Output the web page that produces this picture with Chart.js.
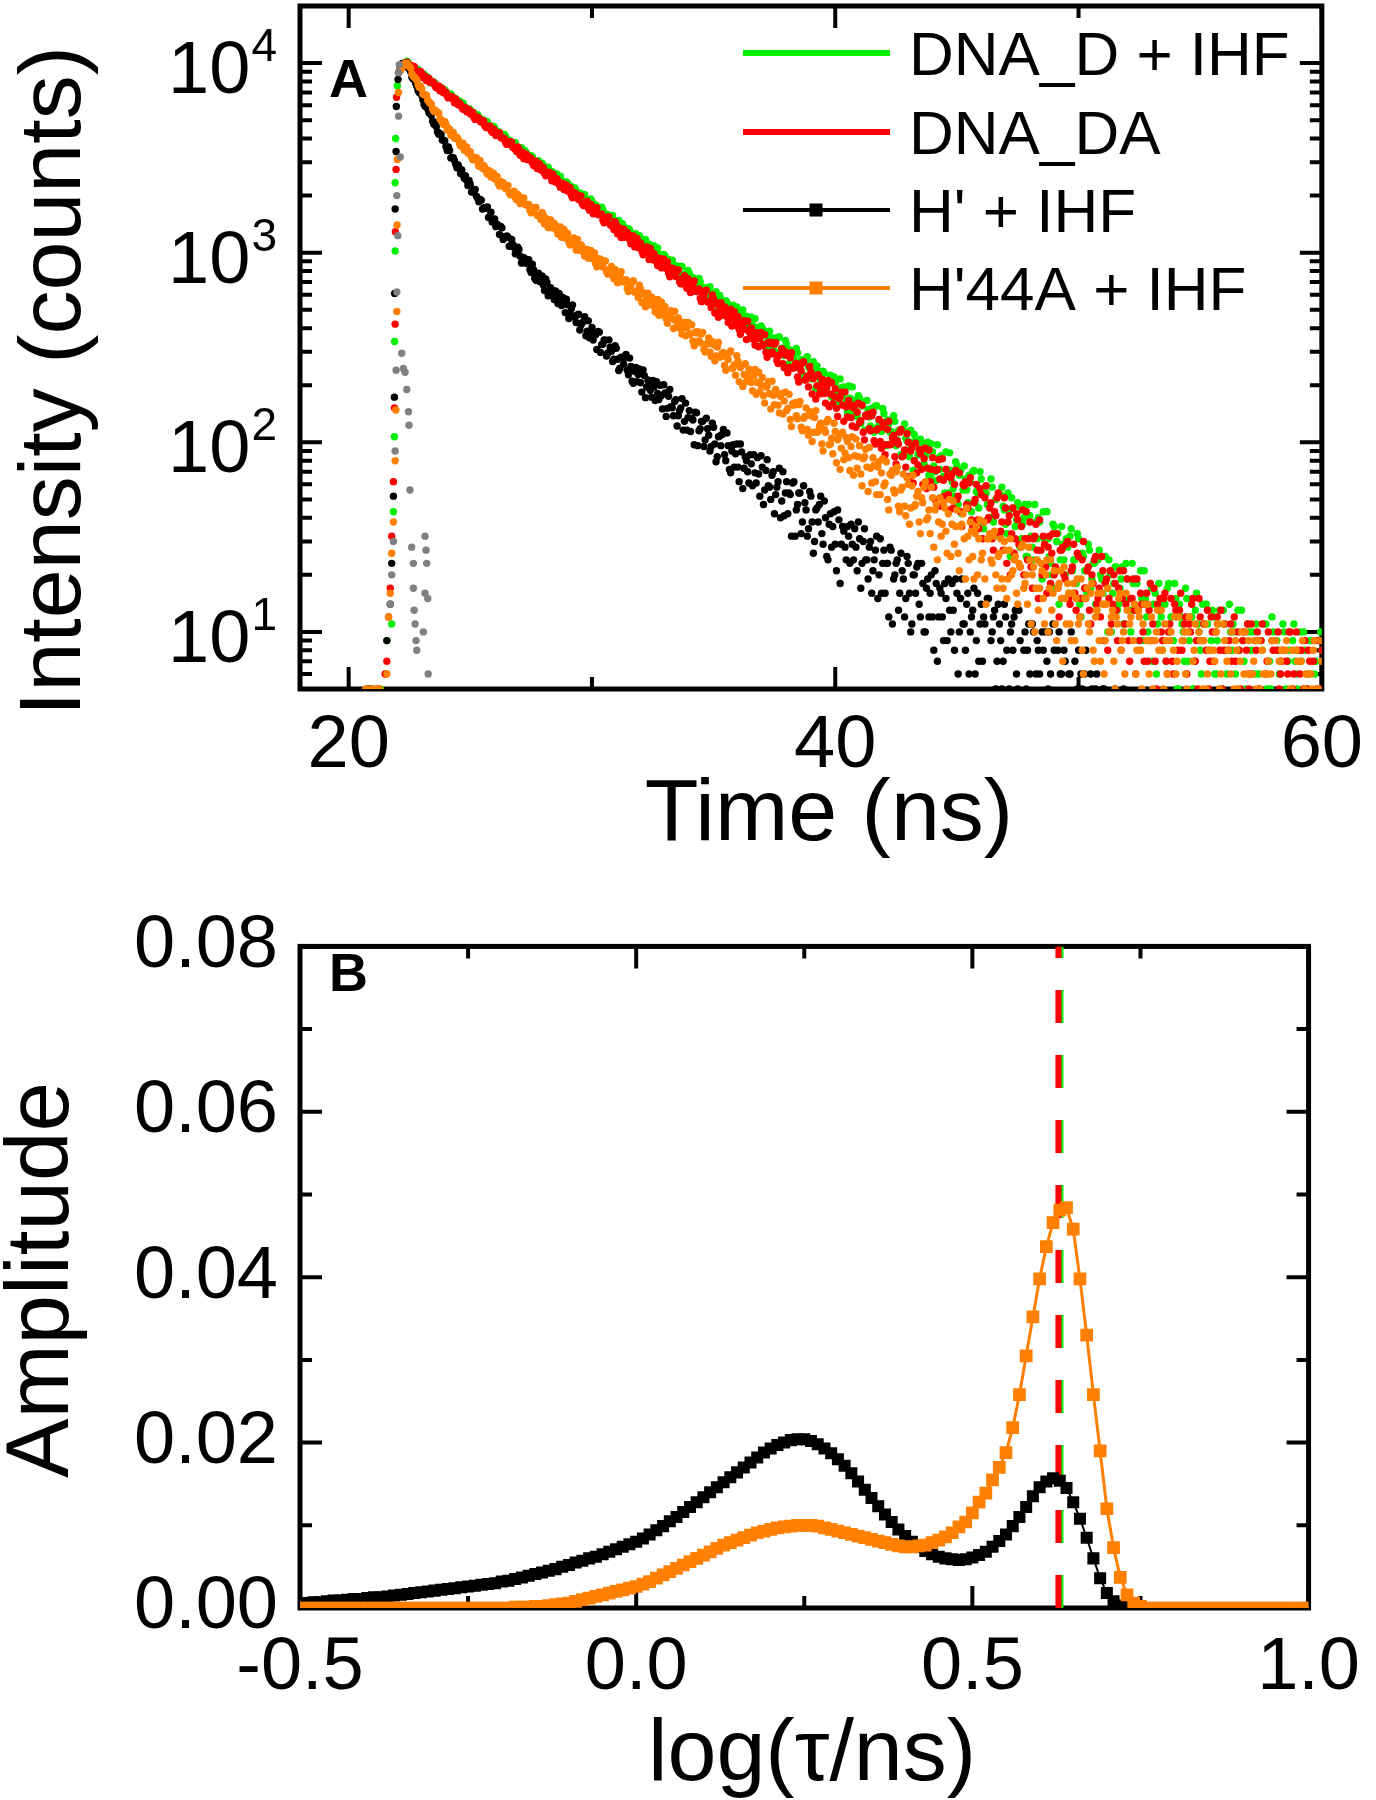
<!DOCTYPE html>
<html><head><meta charset="utf-8">
<script src="https://cdn.jsdelivr.net/npm/chart.js"></script>
<style>html,body{margin:0;padding:0;background:#fff;}canvas{display:block;}</style>
</head><body>
<canvas id="panelA" width="1376" height="880"></canvas>
<canvas id="panelB" width="1376" height="920"></canvas>
<script>
// ---------------- DATA ----------------
const seriesLabels = ['DNA_D + IHF', 'DNA_DA', "H' + IHF", "H'44A + IHF"];
const seriesColors = ['#00f000', '#ff0000', '#000000', '#ff8000'];
const irfColor = '#808080';

// Panel A: TCSPC decays (counts). Even channels start at DECAY_START_NS (every CHANNEL_NS),
// odd channels ("Half" arrays) sit half a channel later.
const DECAY_START_NS = 22.4;
const CHANNEL_NS = 0.1;

const greenRiseTimes = [21.00, 21.30, 21.57, 21.77, 21.84, 21.88, 21.89, 21.91, 21.91, 21.93, 22.00, 22.10, 22.20, 22.30];
const greenRiseCounts = [5, 5, 9, 11, 43, 107, 340, 1020, 2340, 4000, 7600, 9100, 9750, 9990];
const redRiseTimes = [20.90, 21.20, 21.50, 21.57, 21.64, 21.71, 21.77, 21.84, 21.88, 21.91, 21.92, 21.95, 21.97, 22.05, 22.15, 22.25, 22.32];
const redRiseCounts = [5, 5, 6, 7, 12, 17, 32, 62, 152, 420, 1290, 2750, 6600, 8900, 9600, 9900, 10000];
const blackRiseTimes = [20.80, 21.57, 21.71, 21.77, 21.84, 21.88, 21.89, 21.91, 21.95, 21.96, 22.03, 22.12, 22.20, 22.30];
const blackRiseCounts = [5, 9, 14, 23, 52, 173, 610, 1700, 3420, 5900, 8200, 9500, 9950, 10000];
const orangeRiseTimes = [20.70, 20.90, 21.10, 21.27, 21.57, 21.64, 21.71, 21.77, 21.84, 21.91, 21.94, 21.98, 21.99, 22.00, 22.05, 22.15, 22.25, 22.32];
const orangeRiseCounts = [5, 5, 5, 5, 6, 12, 16, 26, 38, 80, 148, 490, 1400, 3100, 7000, 9200, 9800, 9990];

const irfTimes = [21.71, 21.77, 21.84, 21.91, 21.95, 21.98, 21.98, 22.02, 22.05, 22.05, 22.08, 22.12, 22.18, 22.25, 22.32, 22.39, 22.46, 22.48, 22.52, 22.59, 22.66, 22.66, 22.69, 22.73, 22.77, 22.80, 23.07, 23.14, 23.14, 23.18, 23.21, 23.25, 23.27];
const irfCounts = [14, 20, 30, 90, 240, 620, 2000, 1230, 5250, 8900, 9800, 3200, 295, 245, 234, 190, 145, 123, 56, 28, 23, 17, 13, 11, 9, 8, 10, 32, 16, 27, 23, 15, 6];

const greenDecayCounts = [
10234,9648,9623,9156,9262,8970,8661,8730,8135,8244,7933,7938,7503,7456,7445,6986,7066,6737,6864,6491,
6449,6060,6105,6139,5768,5570,5667,5474,5134,5336,5052,5049,4729,4899,4651,4468,4550,4192,4292,4138,
4202,3881,3914,3668,3782,3644,3494,3583,3248,3360,3204,3250,3011,3022,3054,2798,2887,2714,2828,2627,
2634,2419,2480,2533,2326,2231,2322,2228,2040,2197,2041,2066,1887,2021,1887,1794,1870,1665,1751,1676,
1738,1554,1597,1459,1551,1483,1405,1481,1285,1374,1292,1338,1202,1225,1261,1113,1185,1089,1176,1061,
1084,959,1012,1058,939,890,960,912,803,914,827,852,749,845,770,721,778,657,721,681,
731,622,656,577,644,608,566,622,504,568,523,559,479,500,529,441,492,438,499,432,
450,376,414,449,378,352,401,375,310,385,335,355,294,359,314,287,328,254,298,277,
313,246,272,225,271,250,227,266,193,237,211,237,188,205,226,172,207,175,216,176,
189,144,171,196,152,137,171,156,116,166,136,151,113,156,129,114,142,96,125,114,
138,96,115,86,116,105,91,116,71,101,86,104,74,85,100,66,89,70,97,72,
82,54,72,88,62,52,75,67,42,75,56,67,43,71,55,45,64,35,54,47,
64,38,50,32,53,46,37,54,25,45,36,48,28,37,47,25,41,28,47,31,
38,19,31,43,25,20,36,30,14,36,24,31,16,35,24,18,31,12,25,21,
29,17,23,14,24,20,16,25,10,20,16,22,13,17,22,11,19,13,23,14,
18,9,15,21,12,9,17,14,6,18,12,15,7,18,12,9,15,5,12,10,
17,7,12,5,13,11,8,14,4,11,8,13,6,9,13,5,11,6,14,8,
10,4,8,13,7,4,10,8,2,11,6,9,3,11,7,5,10,2,8,6,
11,4,7,2,9,7,5,10,2,8,5,9,3,6,9,3,8];
const greenDecayCountsHalf = [
10042,9608,9533,9057,9252,8857,8514,8488,8420,7867,7890,7829,7459,7435,7066,7220,6861,6610,6665,6557,
6238,6323,5877,5911,5670,5750,5347,5463,5221,5182,4921,4953,4935,4636,4598,4649,4245,4361,4178,4024,
4107,3880,3883,3628,3800,3594,3422,3450,3450,3142,3198,3200,3004,3028,2831,2966,2774,2649,2720,2685,
2516,2603,2351,2403,2280,2360,2133,2235,2109,2110,1971,2017,2031,1866,1865,1921,1687,1784,1690,1613,
1688,1564,1586,1443,1572,1460,1369,1405,1422,1243,1300,1318,1208,1240,1130,1231,1123,1058,1117,1108,
1015,1084,935,981,915,978,845,922,852,864,788,827,846,751,760,805,666,737,686,645,
702,632,654,571,661,597,546,576,595,487,529,547,484,510,446,517,454,419,462,462,
408,457,368,402,365,411,330,384,344,356,312,341,358,301,311,344,258,307,278,256,
296,254,273,222,283,246,216,238,253,187,216,231,193,212,174,221,184,164,194,196,
163,198,143,167,144,176,126,163,139,149,122,143,155,120,128,151,97,131,113,101,
129,103,116,84,125,102,84,100,110,69,90,100,77,91,67,98,75,63,83,85,
66,89,54,71,57,79,47,71,56,64,48,62,70,48,54,70,36,58,47,40,
58,42,51,32,58,44,33,44,51,25,39,46,31,40,25,47,32,24,38,40,
27,43,20,31,23,37,17,33,24,29,20,28,32,21,24,33,14,26,21,16,
27,19,23,13,27,19,14,19,24,10,18,22,14,19,11,23,15,10,18,19,
13,21,9,15,10,18,7,16,11,14,8,14,17,10,12,18,5,14,11,7,
15,9,12,5,16,10,6,11,14,3,9,12,6,11,4,13,8,4,10,11,
6,13,4,9,5,11,3,10,6,9,4,8,11,5,7,12,2,9,6,4,
10,5,8,2,11,6,3,7,10,2,6,9,4,7,2,10];

const redDecayCounts = [
10104,9564,9571,9566,9050,8755,8831,8546,8077,8287,7889,7845,7406,7580,7231,6967,7032,6553,6642,6417,
6465,6034,6045,5707,5821,5619,5404,5489,5046,5159,4939,4971,4651,4641,4656,4317,4405,4170,4290,4019,
4009,3724,3781,3828,3555,3418,3514,3381,3133,3309,3103,3118,2884,3034,2855,2727,2806,2542,2635,2528,
2594,2356,2396,2216,2319,2223,2118,2200,1950,2050,1940,1986,1812,1831,1866,1676,1755,1631,1729,1582,
1596,1438,1495,1544,1393,1326,1406,1341,1202,1331,1219,1245,1115,1225,1127,1063,1127,976,1048,996,
1053,918,956,855,932,885,830,893,747,821,763,803,703,725,757,649,707,638,709,624,
643,552,595,635,548,513,570,537,457,545,481,504,428,504,449,414,461,371,423,394,
435,355,384,326,378,353,324,369,281,332,300,329,270,288,312,247,288,248,297,247,
261,208,238,266,214,196,235,217,169,227,190,207,161,212,180,160,192,137,173,157,
184,136,156,122,157,144,127,157,103,137,118,138,102,116,132,93,120,97,129,98,
109,77,98,117,85,74,100,90,61,99,76,87,60,93,73,62,83,50,72,64,
82,52,66,44,68,60,50,69,36,59,47,61,39,48,60,35,53,38,59,40,
48,27,41,54,34,27,45,38,20,45,31,39,22,44,31,24,38,17,32,27,
39,20,29,16,32,26,20,33,12,27,20,29,15,21,29,13,25,15,30,17,
22,11,18,25,15,12,21,18,8,21,14,18,9,21,15,11,19,7,15,13,
19,9,14,7,16,13,9,17,5,13,10,15,7,10,15,6,13,8,16,9,
12,4,10,15,7,5,12,9,3,13,7,10,4,12,8,5,11,3,9,7,
12,4,8,3,10,8,5,11,2,8,5,9,4,6,10,3,8,4,10,6,
8,2,6,10,5,3,8,6,2,9,5,7,2,9,5,3,8];
const redDecayCountsHalf = [
9742,9717,9622,9138,9018,9026,8397,8499,8185,7910,7971,7600,7550,7141,7330,6993,6704,6695,6648,6172,
6208,6168,5851,5844,5530,5678,5373,5162,5222,5137,4869,4956,4573,4612,4410,4490,4146,4258,4053,4028,
3808,3846,3838,3585,3559,3611,3265,3375,3222,3095,3176,2985,2995,2778,2936,2763,2619,2650,2656,2392,
2448,2457,2291,2317,2152,2275,2113,2010,2076,2050,1908,1989,1775,1824,1723,1797,1604,1698,1592,1598,
1481,1525,1542,1402,1405,1458,1258,1346,1268,1205,1277,1173,1196,1075,1190,1096,1020,1054,1072,920,
969,988,896,926,833,923,833,779,832,826,749,810,685,727,672,729,616,685,627,639,
574,611,628,549,559,599,481,544,502,468,518,460,480,410,489,436,394,421,438,348,
384,401,349,372,319,380,327,299,336,337,292,335,260,291,260,300,233,279,246,257,
221,246,261,213,223,251,180,222,199,180,215,181,195,154,206,175,151,170,184,129,
154,166,135,152,120,161,130,113,139,141,115,144,98,118,101,127,86,117,97,106,
84,102,113,84,91,111,66,94,80,69,92,72,82,57,91,72,58,71,81,46,
63,72,53,65,45,71,52,43,60,62,45,65,36,50,39,57,31,51,39,45,
31,43,51,33,38,51,23,41,33,26,42,29,36,20,43,31,22,31,37,15,
27,32,22,28,18,33,22,17,27,28,19,30,14,22,16,26,12,24,17,21,
13,20,24,14,17,25,9,19,15,11,20,13,17,8,21,14,9,15,19,6,
13,16,10,14,7,18,11,7,14,15,9,16,6,11,7,14,4,13,8,11,
6,11,14,7,9,15,3,11,8,5,12,7,10,3,13,8,4,8,11,2,
7,10,5,9,3,11,6,3,9,10,5,11,2,7,4,9,2,8,5,7,
3,7,10,4,6,10,2,8,5,3,8,4,7,2,9,5];

const blackDecayCounts = [
9733,9274,8422,8254,7564,6995,6778,6051,5896,5463,5297,4762,4636,4216,4194,3914,3634,3606,3161,3169,
2923,2901,2617,2570,2545,2262,2294,2096,2154,1939,1907,1698,1725,1744,1551,1452,1506,1412,1247,1352,
1216,1225,1081,1174,1065,990,1039,882,940,879,919,786,814,716,780,730,676,728,592,653,
597,629,539,556,581,483,532,471,530,455,469,391,427,460,385,356,404,375,309,381,
328,347,285,347,302,274,313,239,281,259,291,227,251,205,248,228,206,241,172,213,
188,212,166,181,200,150,182,151,190,152,164,122,147,170,129,116,147,134,97,143,
115,129,95,134,109,95,120,79,107,96,117,80,96,69,97,87,74,98,57,84,
70,86,59,69,83,52,74,56,81,58,67,42,58,73,49,41,62,54,32,62,
44,54,33,59,44,35,52,26,44,38,52,29,40,24,42,36,29,44,18,36,
28,36,23,29,35,21,31,23,35,24,28,16,24,32,20,16,27,23,12,27,
19,23,13,26,19,15,23,10,20,16,23,12,18,10,19,16,12,21,7,17,
12,18,9,13,18,8,16,10,19,11,14,6,12,17,9,7,14,12,4,15,
9,12,5,14,9,7,12,4,10,8,13,5,9,4,10,8,6,11,2,9,
6,10,4,7,10,3,8,4,10,6,8,2,6,10,4,3,8,6,2,8,
4,6,2,5,4,3,5,1,4,3,3,5,2,4,3,2,4,1,3,2,
3,2,4,1,3,2,3,2,1,3,2,3,1,4,2,3,2,1,3,2,
1,2,3,2,1,4,2,1,2,3,2,1,2,3,1,2,1,3,2,1,
1,2,1,2,3,1,2,1,1,2,2,1,1,2,1,3,1,2,1,1,
1,1,2,1,2,1,1,2,1,1,1,2,1,1,1,1,2];
const blackDecayCountsHalf = [
9462,8996,8232,7863,7170,7026,6401,5908,5724,5405,4938,4869,4347,4249,3931,3887,3458,3458,3178,3066,
2807,2786,2728,2469,2405,2406,2087,2138,1984,1854,1891,1724,1713,1533,1635,1491,1372,1382,1375,1175,
1207,1208,1090,1105,988,1069,957,885,928,909,816,870,733,767,704,753,632,694,629,635,
566,596,610,527,534,568,450,507,464,428,474,416,433,365,437,386,346,369,384,298,
330,346,296,317,267,323,274,246,280,280,240,278,210,237,209,244,184,225,196,205,
173,196,209,168,176,201,137,175,154,138,168,138,152,116,161,135,114,131,144,96,
118,129,103,118,90,126,98,84,108,110,86,112,72,90,74,98,62,89,73,80,
61,77,86,61,68,85,47,71,59,50,70,53,62,40,70,54,42,53,61,32,
47,54,38,48,32,55,38,30,45,47,33,49,25,37,28,43,21,39,29,34,
24,32,37,24,28,38,17,30,24,19,30,21,27,15,31,23,16,23,28,11,
20,24,16,21,12,25,16,11,20,22,14,23,10,17,12,20,8,18,12,16,
9,15,19,10,13,19,6,15,11,8,16,10,13,6,16,11,7,11,15,4,
10,13,7,11,5,14,8,5,11,12,6,13,4,8,5,11,3,10,6,8,
4,8,10,5,6,11,2,8,6,3,7,4,6,2,7,5,3,5,6,1,
3,5,2,6,4,3,5,2,4,2,2,4,3,1,5,3,2,4,3,2,
2,3,1,4,2,3,1,2,3,2,3,1,2,3,2,1,4,2,1,2,
2,3,2,1,3,2,1,2,3,1,1,2,1,3,2,1,2,1,2,3,
2,1,2,1,1,3,1,2,1,2,1,2,1,1,2,1,3,1,1,2,
1,2,1,1,1,2,1,1,2,1,1,1,2,1,1,2];

const orangeDecayCounts = [
9948,9589,8788,8445,8168,7453,7324,6801,6755,6235,6059,5563,5498,5433,4999,4739,4762,4527,4166,4302,
4006,3967,3653,3776,3536,3356,3410,3088,3163,3021,3069,2789,2813,2602,2697,2579,2453,2527,2249,2346,
2218,2259,2066,2078,2109,1903,1980,1843,1942,1782,1797,1625,1681,1731,1567,1495,1575,1504,1356,1488,
1368,1394,1254,1369,1265,1194,1262,1099,1175,1118,1174,1029,1068,962,1041,990,931,996,842,919,
857,898,792,814,847,731,792,718,794,703,721,624,670,711,618,581,641,605,519,612,
544,568,487,567,508,471,520,424,479,448,490,404,435,372,429,402,370,417,323,377,
342,373,310,329,355,284,327,285,336,283,298,240,273,303,247,226,268,248,197,260,
218,236,187,242,207,185,220,161,198,181,210,158,180,143,181,165,147,179,121,157,
138,158,120,134,152,109,138,113,147,114,126,90,113,132,98,87,114,103,72,113,
88,101,71,107,85,73,96,59,84,74,94,61,76,53,79,69,59,79,44,67,
56,70,46,56,68,41,60,45,67,47,55,33,48,62,40,33,51,44,24,51,
37,45,26,50,37,29,44,21,37,31,45,24,34,19,36,31,24,38,14,31,
24,32,20,25,31,17,27,19,31,21,25,14,22,29,18,14,24,20,10,24,
17,21,11,24,17,13,21,9,18,15,22,11,16,9,18,15,11,19,6,15,
11,16,8,12,16,7,14,9,17,10,13,5,11,16,9,6,13,11,4,14,
8,12,5,14,9,6,12,3,10,8,13,5,9,4,10,8,6,12,2,9,
6,10,4,7,11,3,9,5,11,6,8,2,7,11,5,3,9,7,2,10,
5,8,2,10,6,4,9,2,7,5,9,3,6,2,7,6,4,9,2,7,
4,8,3,5,8,2,7,3,9,5,6,2,5,9,4,2,7];
const orangeDecayCountsHalf = [
9644,9384,8512,8256,7705,7555,6878,6812,6366,6163,5739,5644,5507,5089,4953,4922,4432,4482,4235,4025,
4060,3792,3754,3470,3606,3379,3188,3193,3173,2861,2900,2889,2691,2703,2508,2627,2440,2318,2378,2341,
2180,2259,2022,2068,1954,2027,1816,1911,1794,1798,1672,1715,1728,1578,1579,1631,1417,1508,1423,1354,
1425,1313,1335,1206,1325,1225,1143,1178,1196,1033,1084,1102,1004,1035,936,1029,933,876,931,925,
841,905,771,815,757,816,695,768,705,718,648,686,704,620,630,673,546,611,566,531,
584,521,542,468,550,493,448,477,495,398,436,453,397,422,365,429,374,342,382,383,
335,380,299,331,299,340,269,318,282,294,254,282,297,246,256,286,209,254,228,209,
244,207,224,179,234,201,176,196,209,150,177,190,157,175,141,184,151,132,160,162,
133,164,115,137,117,145,101,135,113,122,98,117,128,97,105,126,78,108,93,81,
106,83,95,67,104,84,68,82,92,55,73,83,62,74,53,82,61,50,68,71,
54,74,43,58,46,65,37,59,46,52,38,51,58,39,44,58,28,47,38,32,
48,34,42,25,49,36,26,36,42,19,32,38,25,33,20,39,26,19,31,33,
23,34,17,26,19,30,15,27,20,24,16,23,28,17,20,28,11,22,17,13,
23,15,20,10,24,16,11,17,21,7,15,18,11,16,9,19,12,8,15,17,
10,18,7,13,9,16,6,14,10,12,7,12,15,8,10,16,4,12,9,6,
13,8,11,4,14,9,5,9,13,3,8,11,6,9,4,12,7,4,9,10,
5,12,3,8,4,10,2,9,5,8,3,8,10,4,6,11,2,8,6,3,
9,5,7,2,10,6,3,6,9,2,5,8,3,6,2,9,4,2,7,8,
4,9,2,5,3,8,2,7,4,6,2,6,8,3,5,9];

const xTicksA = [20, 40, 60];
const xMinorA = [30, 50];
const yTicksA = [10, 100, 1000, 10000];
const yMinorA = [6, 7, 8, 9, 20, 30, 40, 50, 60, 70, 80, 90, 200, 300, 400, 500, 600, 700, 800, 900,
                 2000, 3000, 4000, 5000, 6000, 7000, 8000, 9000, 20000];

// Panel B: lifetime distributions on a log(tau/ns) grid
const LOGTAU_START = -0.5;
const LOGTAU_STEP = 0.01;
const ampHprime = [
0.0006,0.0006,0.0007,0.0007,0.0008,0.0009,0.0009,0.0010,0.0011,0.0011,
0.0012,0.0013,0.0013,0.0014,0.0015,0.0016,0.0017,0.0018,0.0019,0.0020,
0.0021,0.0022,0.0023,0.0024,0.0025,0.0026,0.0027,0.0028,0.0029,0.0030,
0.0032,0.0033,0.0035,0.0037,0.0039,0.0041,0.0043,0.0045,0.0047,0.0050,
0.0052,0.0055,0.0057,0.0060,0.0062,0.0065,0.0068,0.0071,0.0074,0.0077,
0.0080,0.0084,0.0089,0.0094,0.0099,0.0105,0.0110,0.0116,0.0122,0.0128,
0.0134,0.0140,0.0146,0.0152,0.0158,0.0164,0.0170,0.0176,0.0182,0.0188,
0.0193,0.0197,0.0200,0.0203,0.0204,0.0204,0.0202,0.0198,0.0193,0.0187,
0.0180,0.0172,0.0163,0.0153,0.0143,0.0133,0.0123,0.0113,0.0104,0.0095,
0.0087,0.0080,0.0074,0.0069,0.0065,0.0062,0.0060,0.0059,0.0058,0.0059,
0.0061,0.0064,0.0068,0.0074,0.0081,0.0089,0.0099,0.0110,0.0122,0.0135,
0.0146,0.0153,0.0157,0.0154,0.0145,0.0128,0.0108,0.0085,0.0060,0.0036,
0.0018,0.0008,0.0003,0.0001,0,0,0,0,0,0,
0,0,0,0,0,0,0,0,0,0,
0,0,0,0,0,0,0,0,0,0,0];
const ampH44A = [
0,0,0,0,0,0,0,0,0,0,
0,0,0,0,0,0,0,0,0,0,
0,0,0,0,0,0,0,0,0,0,
0,0,0.0001,0.0001,0.0001,0.0002,0.0002,0.0003,0.0004,0.0005,
0.0006,0.0008,0.0010,0.0012,0.0014,0.0016,0.0018,0.0020,0.0022,0.0024,
0.0026,0.0029,0.0032,0.0036,0.0040,0.0044,0.0048,0.0052,0.0056,0.0060,
0.0064,0.0068,0.0072,0.0076,0.0079,0.0082,0.0085,0.0088,0.0091,0.0093,
0.0095,0.0097,0.0098,0.0099,0.0100,0.0100,0.0100,0.0099,0.0097,0.0095,
0.0093,0.0091,0.0089,0.0087,0.0085,0.0083,0.0081,0.0079,0.0077,0.0075,
0.0074,0.0074,0.0075,0.0076,0.0079,0.0082,0.0086,0.0091,0.0098,0.0104,
0.0115,0.0128,0.0139,0.0155,0.0170,0.0188,0.0218,0.0258,0.0305,0.0352,
0.0398,0.0437,0.0466,0.0481,0.0484,0.0458,0.0398,0.0330,0.0258,0.0190,
0.0120,0.0073,0.0037,0.0016,0.0006,0.0002,0,0,0,0,
0,0,0,0,0,0,0,0,0,0,
0,0,0,0,0,0,0,0,0,0,0];
const donorLogTau = 0.631;   // DNA_D + IHF single lifetime
const daLogTau = 0.628;      // DNA_DA single lifetime
const ampMaxB = 0.08;

const xTicksB = [-0.5, 0, 0.5, 1.0];
const xMinorB = [-0.25, 0.25, 0.75];
const yTicksB = [0, 0.02, 0.04, 0.06, 0.08];
const yMinorB = [0.01, 0.03, 0.05, 0.07];

// ---------------- STYLE / HELPERS ----------------
const FONT = '"Liberation Sans", Arial, Helvetica, sans-serif';
Chart.defaults.font.family = FONT;
Chart.defaults.color = '#000';
const TICK_W = 4, FRAME_W = 5, MAJOR_LEN = 22, MINOR_LEN = 12;

function decaySeries(riseT, riseC, evenC, oddC) {
  const pts = riseT.map((t, i) => ({x: t, y: riseC[i]}));
  evenC.forEach((c, i) => pts.push({x: +(DECAY_START_NS + i * CHANNEL_NS).toFixed(3), y: c}));
  oddC.forEach((c, i) => pts.push({x: +(DECAY_START_NS + CHANNEL_NS / 2 + i * CHANNEL_NS).toFixed(3), y: c}));
  return pts;
}
function distSeries(vals) {
  return vals.map((v, i) => ({x: +(LOGTAU_START + i * LOGTAU_STEP).toFixed(3), y: v}));
}
function drawFrame(chart, t) {
  const {ctx, chartArea: a, scales: {x, y}} = chart;
  ctx.save();
  ctx.strokeStyle = '#000';
  ctx.lineWidth = TICK_W;
  ctx.beginPath();
  const vx = (vals, len) => vals.forEach(v => { const p = x.getPixelForValue(v);
    ctx.moveTo(p, a.bottom); ctx.lineTo(p, a.bottom - len); ctx.moveTo(p, a.top); ctx.lineTo(p, a.top + len); });
  const vy = (vals, len) => vals.forEach(v => { const p = y.getPixelForValue(v);
    ctx.moveTo(a.left, p); ctx.lineTo(a.left + len, p); ctx.moveTo(a.right, p); ctx.lineTo(a.right - len, p); });
  vx(t.xMajor, MAJOR_LEN); vx(t.xMinor, MINOR_LEN); vy(t.yMajor, MAJOR_LEN); vy(t.yMinor, MINOR_LEN);
  ctx.stroke();
  ctx.lineWidth = FRAME_W;
  ctx.strokeRect(a.left, a.top, a.right - a.left, a.bottom - a.top);
  ctx.restore();
}
function text(ctx, str, x, y, size, align, weight) {
  ctx.font = (weight || '') + ' ' + size + 'px ' + FONT;
  ctx.textAlign = align || 'left';
  ctx.textBaseline = 'alphabetic';
  ctx.fillStyle = '#000';
  ctx.fillText(str, x, y);
}
function rotText(ctx, str, x, y, size) {
  ctx.save(); ctx.translate(x, y); ctx.rotate(-Math.PI / 2);
  text(ctx, str, 0, 0, size, 'center'); ctx.restore();
}

const decorA = {
  id: 'decorA',
  beforeDatasetsDraw(chart) { drawFrame(chart, {xMajor: xTicksA, xMinor: xMinorA, yMajor: yTicksA, yMinor: yMinorA}); },
  afterDraw(chart) {
    const {ctx, scales: {y}} = chart;
    ctx.save();
    yTicksA.forEach(v => {
      const py = y.getPixelForValue(v);
      const exp = String(Math.round(Math.log10(v)));
      ctx.font = '46px ' + FONT;
      const ew = ctx.measureText(exp).width;
      const right = 277;
      text(ctx, exp, right - ew, py - 2, 46, 'left');
      text(ctx, '10', right - ew - 1, py + 30, 74, 'right');
    });
    text(ctx, 'A', 329, 97, 54, 'left', 'bold');
    text(ctx, 'Time (ns)', 829, 840, 88, 'center');
    rotText(ctx, 'Intensity (counts)', 80, 381, 88);
    const rows = [53, 132, 210, 288];
    seriesLabels.forEach((lab, i) => {
      const ry = rows[i];
      ctx.strokeStyle = seriesColors[i];
      ctx.lineWidth = i < 2 ? 6 : 4;
      ctx.beginPath(); ctx.moveTo(743, ry); ctx.lineTo(890, ry); ctx.stroke();
      if (i >= 2) { ctx.fillStyle = seriesColors[i]; ctx.fillRect(816 - 6.5, ry - 6.5, 13, 13); }
      text(ctx, lab, 909, ry + 22, 62, 'left');
    });
    ctx.restore();
  }
};

const decorB = {
  id: 'decorB',
  beforeDatasetsDraw(chart) { drawFrame(chart, {xMajor: xTicksB, xMinor: xMinorB, yMajor: yTicksB, yMinor: yMinorB}); },
  afterDraw(chart) {
    const {ctx} = chart;
    ctx.save();
    text(ctx, 'B', 329, 111, 54, 'left', 'bold');
    text(ctx, 'log(\u03C4/ns)', 812, 900, 88, 'center');
    rotText(ctx, 'Amplitude', 68, 400, 89);
    ctx.restore();
  }
};

const tickFont = {size: 74, family: FONT};

// ---------------- PANEL A ----------------
const ptsA = (data, color, order) => ({data, backgroundColor: color, borderColor: color, pointRadius: 3.7,
  pointBorderWidth: 0, pointHoverRadius: 0, showLine: false, order});
new Chart(document.getElementById('panelA'), {
  type: 'scatter',
  data: {datasets: [
    ptsA(decaySeries(greenRiseTimes, greenRiseCounts, greenDecayCounts, greenDecayCountsHalf), seriesColors[0], 5),
    ptsA(decaySeries(redRiseTimes, redRiseCounts, redDecayCounts, redDecayCountsHalf), seriesColors[1], 4),
    ptsA(decaySeries(blackRiseTimes, blackRiseCounts, blackDecayCounts, blackDecayCountsHalf), seriesColors[2], 3),
    ptsA(decaySeries(orangeRiseTimes, orangeRiseCounts, orangeDecayCounts, orangeDecayCountsHalf), seriesColors[3], 2),
    ptsA(irfTimes.map((t, i) => ({x: t, y: irfCounts[i]})), irfColor, 1)
  ]},
  options: {
    responsive: false, animation: false, devicePixelRatio: 1, events: [],
    layout: {padding: {top: 6, right: 50, left: 0, bottom: 0}},
    plugins: {legend: {display: false}, tooltip: {enabled: false}},
    scales: {
      x: {type: 'linear', min: 18, max: 60,
        afterBuildTicks: s => { s.ticks = xTicksA.map(v => ({value: v})); },
        afterFit: s => { s.height = 191; },
        ticks: {font: tickFont, color: '#000', padding: 13, maxRotation: 0, autoSkip: false, callback: v => String(v)},
        grid: {display: false, drawTicks: false}, border: {display: false}},
      y: {type: 'logarithmic', min: 5, max: 20000,
        afterBuildTicks: s => { s.ticks = yTicksA.map(v => ({value: v})); },
        afterFit: s => { s.width = 300; },
        ticks: {display: false},
        grid: {display: false, drawTicks: false}, border: {display: false}}
    }
  },
  plugins: [decorA]
});

// ---------------- PANEL B ----------------
new Chart(document.getElementById('panelB'), {
  type: 'scatter',
  data: {datasets: [
    {data: [{x: donorLogTau, y: 0}, {x: donorLogTau, y: ampMaxB}], showLine: true, borderColor: seriesColors[0],
     borderWidth: 6, borderDash: [33, 32], pointRadius: 0, order: 4},
    {data: [{x: daLogTau, y: 0}, {x: daLogTau, y: ampMaxB}], showLine: true, borderColor: seriesColors[1],
     borderWidth: 6, borderDash: [33, 32], pointRadius: 0, order: 3},
    {data: distSeries(ampHprime), showLine: true, borderColor: seriesColors[2], borderWidth: 2,
     pointStyle: 'rect', pointRadius: 8.5, pointBackgroundColor: seriesColors[2], pointBorderWidth: 0, pointHoverRadius: 0, order: 2},
    {data: distSeries(ampH44A), showLine: true, borderColor: seriesColors[3], borderWidth: 3,
     pointStyle: 'rect', pointRadius: 9, pointBackgroundColor: seriesColors[3], pointBorderWidth: 0, pointHoverRadius: 0, order: 1}
  ]},
  options: {
    responsive: false, animation: false, devicePixelRatio: 1, events: [],
    layout: {padding: {top: 48, right: 50, left: 0, bottom: 0}},
    plugins: {legend: {display: false}, tooltip: {enabled: false}},
    scales: {
      x: {type: 'linear', min: -0.5, max: 1.0,
        afterBuildTicks: s => { s.ticks = xTicksB.map(v => ({value: v})); },
        afterFit: s => { s.height = 192; },
        ticks: {font: tickFont, color: '#000', padding: 16, maxRotation: 0, autoSkip: false, callback: v => Number(v).toFixed(1)},
        grid: {display: false, drawTicks: false}, border: {display: false}},
      y: {type: 'linear', min: 0, max: ampMaxB,
        afterBuildTicks: s => { s.ticks = yTicksB.map(v => ({value: v})); },
        afterFit: s => { s.width = 300; },
        ticks: {font: tickFont, color: '#000', padding: 22, autoSkip: false, callback: v => Number(v).toFixed(2)},
        grid: {display: false, drawTicks: false}, border: {display: false}}
    }
  },
  plugins: [decorB]
});
</script>
</body></html>
